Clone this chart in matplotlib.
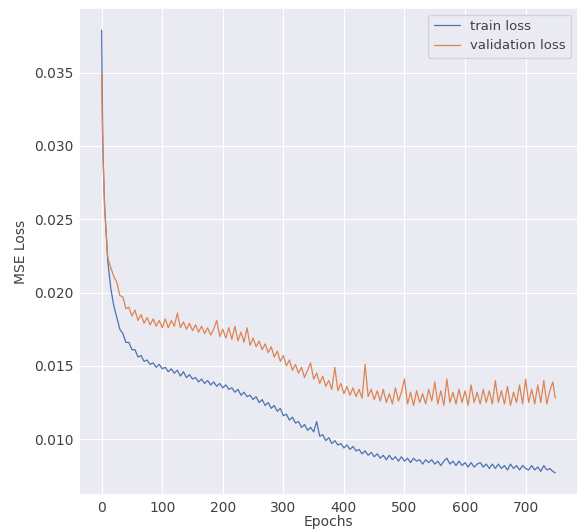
import matplotlib
matplotlib.use("Agg")
import matplotlib.pyplot as plt
import seaborn as sns

# epochs sampled: first few one by one, then every 5
epochs = [0, 1, 2, 3, 4] + list(range(5, 750, 5)) + [749]

train_loss = [
    0.0379, 0.0335, 0.0300, 0.0284, 0.0270,
    0.0258, 0.0222, 0.0203, 0.0191, 0.0183, 0.0175, 0.0172, 0.0166, 0.0166, 0.0161,
    0.0161, 0.0156, 0.0157, 0.0153, 0.0154, 0.0151, 0.0152, 0.0149, 0.0151, 0.0148,
    0.0149, 0.0146, 0.0148, 0.0145, 0.0147, 0.0143, 0.0146, 0.0142, 0.0144, 0.0141,
    0.0142, 0.0139, 0.0141, 0.0138, 0.0140, 0.0137, 0.0139, 0.0136, 0.0138, 0.0135,
    0.0137, 0.0134, 0.0135, 0.0132, 0.0134, 0.0130, 0.0132, 0.0129, 0.0130, 0.0127,
    0.0129, 0.0125, 0.0127, 0.0123, 0.0125, 0.0121, 0.0123, 0.0119, 0.0121, 0.0116,
    0.0117, 0.0113, 0.0115, 0.0111, 0.0112, 0.0108, 0.0110, 0.0106, 0.0108, 0.0105,
    0.0112, 0.0102, 0.0103, 0.0099, 0.0101, 0.0097, 0.0099, 0.0096, 0.0097, 0.0094,
    0.0096, 0.0093, 0.0095, 0.0092, 0.0093, 0.0090, 0.0092, 0.0089, 0.0091, 0.0088,
    0.0090, 0.0087, 0.0089, 0.0086, 0.0089, 0.0086, 0.0088, 0.0085, 0.0088, 0.0085,
    0.0087, 0.0084, 0.0087, 0.0085, 0.0086, 0.0083, 0.0086, 0.0084, 0.0086, 0.0083,
    0.0085, 0.0082, 0.0085, 0.0087, 0.0083, 0.0085, 0.0082, 0.0085, 0.0082, 0.0084,
    0.0081, 0.0084, 0.0081, 0.0083, 0.0084, 0.0081, 0.0083, 0.0080, 0.0083, 0.0080,
    0.0083, 0.0080, 0.0082, 0.0079, 0.0083, 0.0080, 0.0082, 0.0079, 0.0082, 0.0080,
    0.0079, 0.0082, 0.0079, 0.0081, 0.0078, 0.0082, 0.0079, 0.0080, 0.0078,
    0.0077,
]

val_loss = [
    0.0350, 0.0318, 0.0297, 0.0282, 0.0270,
    0.0257, 0.0224, 0.0217, 0.0211, 0.0207, 0.0198, 0.0197, 0.0189, 0.0190, 0.0184,
    0.0188, 0.0181, 0.0185, 0.0179, 0.0183, 0.0178, 0.0182, 0.0177, 0.0181, 0.0176,
    0.0182, 0.0176, 0.0181, 0.0177, 0.0186, 0.0176, 0.0180, 0.0175, 0.0179, 0.0174,
    0.0178, 0.0173, 0.0177, 0.0172, 0.0176, 0.0171, 0.0175, 0.0181, 0.0170, 0.0175,
    0.0169, 0.0176, 0.0168, 0.0177, 0.0167, 0.0173, 0.0166, 0.0176, 0.0164, 0.0169,
    0.0163, 0.0167, 0.0161, 0.0165, 0.0159, 0.0163, 0.0156, 0.0160, 0.0153, 0.0157,
    0.0150, 0.0154, 0.0147, 0.0151, 0.0145, 0.0149, 0.0142, 0.0147, 0.0152, 0.0141,
    0.0145, 0.0138, 0.0143, 0.0136, 0.0140, 0.0134, 0.0149, 0.0133, 0.0138, 0.0131,
    0.0136, 0.0130, 0.0135, 0.0129, 0.0134, 0.0128, 0.0151, 0.0129, 0.0134, 0.0127,
    0.0133, 0.0126, 0.0134, 0.0125, 0.0131, 0.0124, 0.0135, 0.0126, 0.0132, 0.0141,
    0.0124, 0.0132, 0.0123, 0.0133, 0.0125, 0.0131, 0.0124, 0.0134, 0.0126, 0.0139,
    0.0124, 0.0133, 0.0123, 0.0141, 0.0125, 0.0132, 0.0124, 0.0134, 0.0125, 0.0133,
    0.0123, 0.0137, 0.0125, 0.0132, 0.0124, 0.0134, 0.0125, 0.0133, 0.0124, 0.0140,
    0.0125, 0.0133, 0.0124, 0.0136, 0.0123, 0.0132, 0.0125, 0.0137, 0.0124, 0.0141,
    0.0125, 0.0134, 0.0124, 0.0137, 0.0125, 0.0140, 0.0124, 0.0133, 0.0139,
    0.0128,
]

sns.set_theme(style="darkgrid")
plt.rcParams['font.family'] = ['DejaVu Sans']

fig = plt.figure(figsize=(5.85, 5.3), dpi=100)
ax = fig.add_axes([0.135, 0.066, 0.853, 0.919])

ax.plot(epochs, train_loss, linewidth=0.9, label="train loss")
ax.plot(epochs, val_loss, linewidth=0.9, label="validation loss")

ax.grid(linewidth=0.8)
ax.set_xlabel("Epochs", fontsize=10, labelpad=0, color=".25")
ax.set_ylabel("MSE Loss", fontsize=10, color=".25")
ax.tick_params(labelsize=10, length=0, pad=4, labelcolor=".25")
leg = ax.legend(loc="upper right", fontsize=9.5)
for t in leg.get_texts():
    t.set_color(".25")

fig.savefig("out.png", dpi=100)
